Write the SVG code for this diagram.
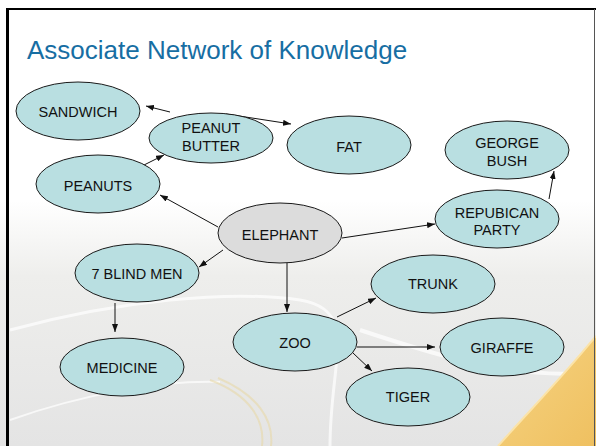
<svg xmlns="http://www.w3.org/2000/svg" width="596" height="446" viewBox="0 0 596 446">
<style>
.n ellipse{fill:#b9dfe1;stroke:#1a1a1a;stroke-width:1}
.n text{font-family:"Liberation Sans",Arial,sans-serif;font-size:14.5px;fill:#111;text-anchor:middle}
#elephant ellipse{fill:#dcdcdc}
.c line{stroke:#111;stroke-width:1;marker-end:url(#ah)}
</style>
<defs>
<marker id="ah" viewBox="0 0 8 6" refX="8" refY="3" markerWidth="8" markerHeight="6" markerUnits="userSpaceOnUse" orient="auto">
<path d="M0,0 L8,3 L0,6 Z" fill="#111"/>
</marker>
<linearGradient id="bg" x1="0" y1="0" x2="0" y2="1">
<stop offset="0" stop-color="#ffffff"/>
<stop offset="0.45" stop-color="#ffffff"/>
<stop offset="0.62" stop-color="#eeeeec"/>
<stop offset="1" stop-color="#e4e4e4"/>
</linearGradient>
<linearGradient id="yw" x1="0" y1="0" x2="1" y2="1">
<stop offset="0" stop-color="#f6d483"/>
<stop offset="1" stop-color="#efc060"/>
</linearGradient>
</defs>
<rect x="0" y="0" width="596" height="446" fill="url(#bg)"/>
<g fill="none" stroke="#ffffff" stroke-opacity="0.7">
<path d="M10,330 C120,300 230,290 300,300 C360,310 330,360 330,446" stroke-width="3"/>
<path d="M10,420 C80,395 160,380 220,382" stroke-width="2"/>
<path d="M360,330 C450,360 520,380 596,372" stroke-width="4"/>
</g>
<g fill="none" stroke="#e8d9a8" stroke-opacity="0.6">
<path d="M210,380 C250,395 265,420 262,446" stroke-width="2"/>
<path d="M218,378 C258,395 274,420 271,446" stroke-width="2"/>
</g>
<path d="M596,336 C560,380 530,410 498,446 L596,446 Z" fill="url(#yw)"/>
<path d="M596,336 C560,380 530,410 498,446" fill="none" stroke="#fbe3a8" stroke-width="2"/>
<g id="frame">
<line x1="7.5" y1="8" x2="7.5" y2="446" stroke="#000" stroke-width="3"/>
<line x1="6" y1="9" x2="596" y2="9" stroke="#000" stroke-width="2"/>
<line x1="594.5" y1="9" x2="594.5" y2="446" stroke="#555" stroke-width="1"/>
</g>
<text x="27" y="59" font-family="'Liberation Sans',Arial,sans-serif" font-size="26" fill="#176ea3">Associate Network of Knowledge</text>
<g class="c" id="connectors">
<line x1="170" y1="112" x2="146" y2="106"/>
<line x1="226" y1="114" x2="291" y2="124"/>
<line x1="144" y1="165" x2="164" y2="155"/>
<line x1="218" y1="227" x2="160" y2="195"/>
<line x1="223" y1="250" x2="199" y2="267"/>
<line x1="287" y1="263" x2="287" y2="312"/>
<line x1="115" y1="303" x2="115" y2="332"/>
<line x1="342" y1="238" x2="435" y2="224"/>
<line x1="549" y1="199" x2="554" y2="171"/>
<line x1="337" y1="317" x2="376" y2="298"/>
<line x1="357" y1="347" x2="435" y2="347"/>
<line x1="353" y1="353" x2="372" y2="371"/>
</g>
<g class="n" id="sandwich"><ellipse cx="78" cy="111" rx="62" ry="29"/><text x="78" y="116.5">SANDWICH</text></g>
<g class="n" id="peanut-butter"><ellipse cx="211" cy="138" rx="62" ry="25"/><text x="211" y="133.3">PEANUT</text><text x="211" y="150.7">BUTTER</text></g>
<g class="n" id="peanuts"><ellipse cx="98" cy="184" rx="62" ry="29"/><text x="98" y="190.5">PEANUTS</text></g>
<g class="n" id="fat"><ellipse cx="349" cy="145" rx="62" ry="29"/><text x="349" y="151.5">FAT</text></g>
<g class="n" id="george-bush"><ellipse cx="507" cy="150" rx="62" ry="29"/><text x="507" y="148.3">GEORGE</text><text x="507" y="165.7">BUSH</text></g>
<g class="n" id="republican-party"><ellipse cx="497" cy="219" rx="62" ry="29"/><text x="497" y="217.5">REPUBICAN</text><text x="497" y="234.5">PARTY</text></g>
<g class="n" id="elephant"><ellipse cx="280" cy="233" rx="62" ry="30"/><text x="280" y="240">ELEPHANT</text></g>
<g class="n" id="blind-men"><ellipse cx="137" cy="273" rx="62" ry="29"/><text x="137" y="279.3">7 BLIND MEN</text></g>
<g class="n" id="medicine"><ellipse cx="122" cy="367" rx="62" ry="29"/><text x="122" y="373.3">MEDICINE</text></g>
<g class="n" id="zoo"><ellipse cx="295" cy="342" rx="62" ry="29"/><text x="295" y="348.3">ZOO</text></g>
<g class="n" id="trunk"><ellipse cx="433" cy="284" rx="62" ry="29"/><text x="433" y="289.3">TRUNK</text></g>
<g class="n" id="giraffe"><ellipse cx="502" cy="347" rx="62" ry="29"/><text x="502" y="353">GIRAFFE</text></g>
<g class="n" id="tiger"><ellipse cx="408" cy="397" rx="62" ry="29"/><text x="408" y="402">TIGER</text></g>
</svg>
